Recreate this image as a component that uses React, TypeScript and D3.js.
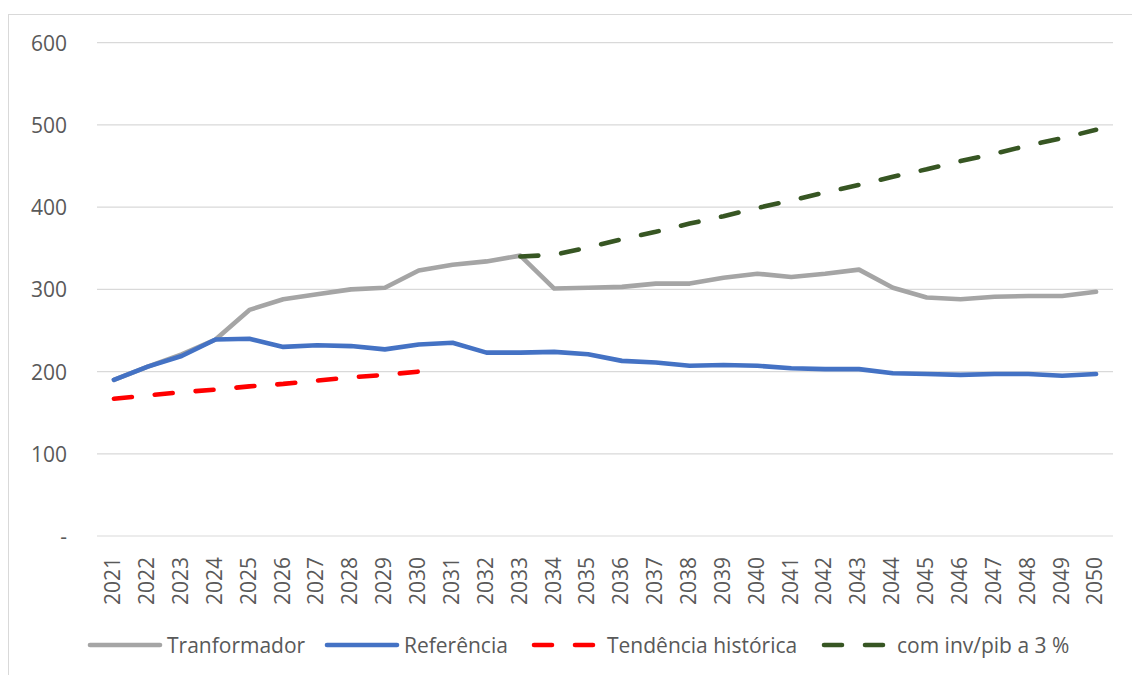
import * as d3 from "d3";

const years = [
  "2021", "2022", "2023", "2024", "2025", "2026", "2027", "2028", "2029", "2030",
  "2031", "2032", "2033", "2034", "2035", "2036", "2037", "2038", "2039", "2040",
  "2041", "2042", "2043", "2044", "2045", "2046", "2047", "2048", "2049", "2050",
];

const transformador = [
  190, 206, 221, 239, 275, 288, 294, 300, 302, 323,
  330, 334, 341, 301, 302, 303, 307, 307, 314, 319,
  315, 319, 324, 302, 290, 288, 291, 292, 292, 297,
];

const referencia = [
  190, 206, 219, 239, 240, 230, 232, 231, 227, 233,
  235, 223, 223, 224, 221, 213, 211, 207, 208, 207,
  204, 203, 203, 198, 197, 196, 197, 197, 195, 197,
];

const tendenciaYears = ["2021", "2022", "2023", "2024", "2025", "2026", "2027", "2028", "2029", "2030"];
const tendencia = [167, 171, 175, 178, 182, 185, 189, 193, 196, 200];

const comInvYears = [
  "2033", "2034", "2035", "2036", "2037", "2038", "2039", "2040", "2041",
  "2042", "2043", "2044", "2045", "2046", "2047", "2048", "2049", "2050",
];
const comInv = [340, 342, 351, 361, 370, 380, 389, 399, 408, 418, 427, 437, 446, 456, 465, 475, 484, 494];

const yTicks = [0, 100, 200, 300, 400, 500, 600];
const yTickLabels = ["-", "100", "200", "300", "400", "500", "600"];

const seriesNames = ["Tranformador", "Referência", "Tendência histórica", "com inv/pib a 3 %"];

const FONT = "'Open Sans', sans-serif";
const TEXT = "#595959";
const GRID = "#d9d9d9";
const DASH = "18,23";
const FS = 21;
const SW = 4.6;

export default function App() {
  const width = 1132;
  const height = 675;

  const x = d3.scaleBand<string>().domain(years).range([97, 1113]).padding(0);
  const y = d3.scaleLinear().domain([0, 600]).range([536, 42.7]);
  const cx = (d: string) => (x(d) ?? 0) + x.bandwidth() / 2;

  const line = d3
    .line<[string, number]>()
    .x((d) => cx(d[0]))
    .y((d) => y(d[1]));

  const zip = (ks: string[], vs: number[]) => ks.map((k, i) => [k, vs[i]] as [string, number]);

  const series = [
    { name: seriesNames[0], color: "#a5a5a5", dash: null, pts: zip(years, transformador) },
    { name: seriesNames[1], color: "#4472c4", dash: null, pts: zip(years, referencia) },
    { name: seriesNames[2], color: "#ff0000", dash: DASH, pts: zip(tendenciaYears, tendencia) },
    { name: seriesNames[3], color: "#375623", dash: DASH, pts: zip(comInvYears, comInv) },
  ];

  // legend layout (Excel places entries in one row under the axis)
  const legendPos = [
    { x0: 90, x1: 160, tx: 167 },
    { x0: 327, x1: 397, tx: 404 },
    { x0: 534, x1: 593, tx: 607 },
    { x0: 824, x1: 883, tx: 897 },
  ];
  const legendY = 645;

  return (
    <svg
      width={width}
      height={height}
      style={{ position: "absolute", left: 0, top: 0, background: "#fff" }}
      fontFamily={FONT}
    >
      <rect x={8.5} y={14.5} width={1200} height={700} fill="none" stroke={GRID} strokeWidth={1} />

      {/* gridlines + y labels */}
      {yTicks.map((t, i) => (
        <g key={t}>
          <line x1={97} x2={1113} y1={y(t)} y2={y(t)} stroke={GRID} strokeWidth={1.2} />
          <text
            x={67}
            y={y(t)}
            textAnchor="end"
            dominantBaseline="central"
            fontSize={FS}
            fill={TEXT}
          >
            {yTickLabels[i]}
          </text>
        </g>
      ))}

      {/* x labels, rotated */}
      {years.map((yr) => (
        <text
          key={yr}
          transform={`translate(${cx(yr) - 1},557) rotate(-90)`}
          textAnchor="end"
          dy="0.35em"
          fontSize={FS}
          fill={TEXT}
        >
          {yr}
        </text>
      ))}

      {series.map((s) => (
        <path
          key={s.name}
          d={line(s.pts) ?? ""}
          fill="none"
          stroke={s.color}
          strokeWidth={SW}
          strokeLinejoin="round"
          strokeLinecap="round"
          strokeDasharray={s.dash ?? undefined}
        />
      ))}

      {series.map((s, i) => (
        <g key={"lg" + s.name}>
          <line
            x1={legendPos[i].x0}
            x2={legendPos[i].x1}
            y1={legendY}
            y2={legendY}
            stroke={s.color}
            strokeWidth={SW}
            strokeLinecap="round"
            strokeDasharray={s.dash ?? undefined}
          />
          <text
            x={legendPos[i].tx}
            y={legendY}
            dominantBaseline="central"
            fontSize={FS}
            fill={TEXT}
          >
            {s.name}
          </text>
        </g>
      ))}
    </svg>
  );
}
